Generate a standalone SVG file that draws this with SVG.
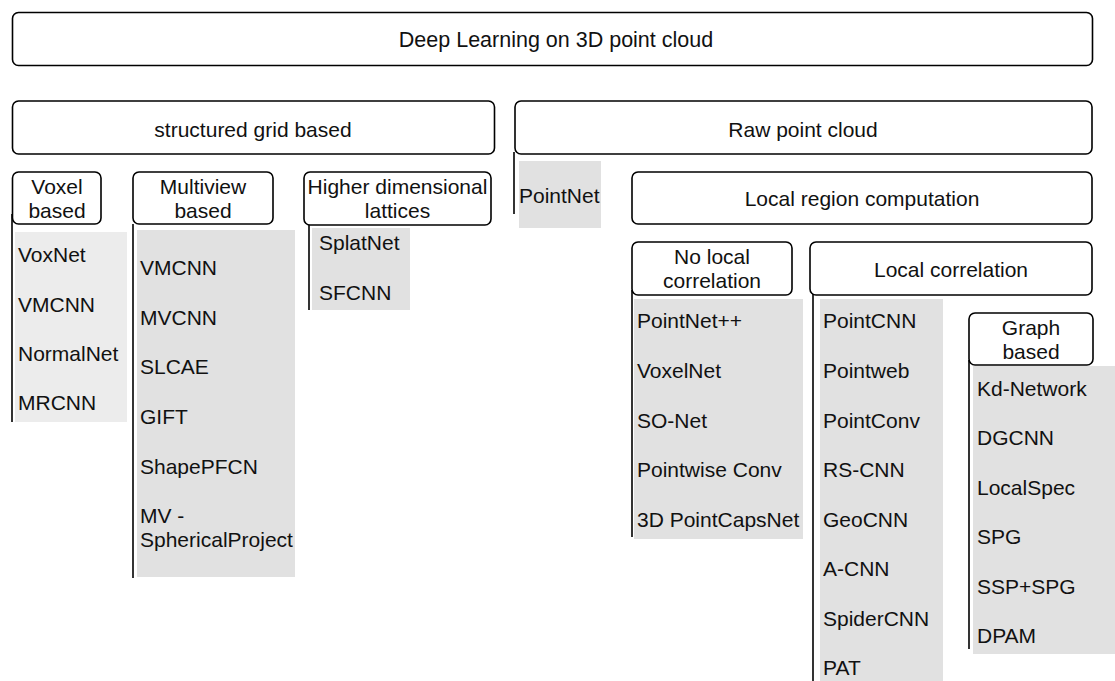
<svg xmlns="http://www.w3.org/2000/svg" width="1115" height="681" viewBox="0 0 1115 681">
<style>
.box{fill:#fff;stroke:#000;stroke-width:1.6}
.t{font-family:"Liberation Sans",Arial,sans-serif;font-size:21px;fill:#111}
.c{text-anchor:middle}
.g{fill:#e1e1e1}
.g2{fill:#ececec}
.ln{stroke:#000;stroke-width:1.6;fill:none}
</style>
<rect width="1115" height="681" fill="#fff"/>
<g id="connectors">
<line class="ln" x1="12" y1="214" x2="12" y2="422"/>
<line class="ln" x1="133" y1="224" x2="133" y2="578"/>
<line class="ln" x1="309" y1="225" x2="309" y2="310"/>
<line class="ln" x1="514" y1="152" x2="514" y2="214"/>
<line class="ln" x1="632" y1="290" x2="632" y2="537"/>
<line class="ln" x1="813" y1="290" x2="813" y2="681"/>
<line class="ln" x1="969" y1="360" x2="969" y2="649"/>
</g>
<g id="root"><rect class="box" x="12.5" y="12.5" width="1080" height="53" rx="6"/><text class="t c" x="556" y="47" style="font-size:21.5px">Deep Learning on 3D point cloud</text></g>
<g id="structured"><rect class="box" x="12.5" y="101" width="482" height="53" rx="6"/><text class="t c" x="253" y="137">structured grid based</text></g>
<g id="raw"><rect class="box" x="515" y="101" width="577" height="53" rx="6"/><text class="t c" x="803" y="137">Raw point cloud</text></g>
<g id="voxel"><rect class="box" x="12.5" y="172" width="88.5" height="52" rx="6"/><text class="t c" x="57" y="194">Voxel</text><text class="t c" x="57" y="218">based</text></g>
<g id="multiview"><rect class="box" x="133" y="172" width="140" height="52" rx="6"/><text class="t c" x="203" y="194">Multiview</text><text class="t c" x="203" y="218">based</text></g>
<g id="higher"><rect class="box" x="304" y="172" width="187" height="53" rx="6"/><text class="t c" x="397.5" y="194">Higher dimensional</text><text class="t c" x="397.5" y="218">lattices</text></g>
<g id="voxel-list"><rect class="g2" x="15" y="232" width="112" height="190"/>
<text class="t" x="18" y="262">VoxNet</text><text class="t" x="18" y="312">VMCNN</text><text class="t" x="18" y="361">NormalNet</text><text class="t" x="18" y="410">MRCNN</text></g>
<g id="multiview-list"><rect class="g" x="137" y="230" width="158" height="347"/>
<text class="t" x="140" y="275">VMCNN</text><text class="t" x="140" y="325">MVCNN</text><text class="t" x="140" y="374">SLCAE</text><text class="t" x="140" y="424">GIFT</text><text class="t" x="140" y="474">ShapePFCN</text><text class="t" x="140" y="523">MV -</text><text class="t" x="140" y="547">SphericalProject</text></g>
<g id="higher-list"><rect class="g" x="312" y="228" width="98" height="82"/>
<text class="t" x="319" y="250">SplatNet</text><text class="t" x="319" y="300">SFCNN</text></g>
<g id="pointnet"><rect class="g" x="519" y="161" width="82" height="67"/><text class="t" x="519" y="203">PointNet</text></g>
<g id="local-region"><rect class="box" x="632" y="172" width="460" height="52" rx="6"/><text class="t c" x="862" y="206">Local region computation</text></g>
<g id="no-local"><rect class="box" x="632" y="242" width="160" height="53" rx="6"/><text class="t c" x="712" y="264">No local</text><text class="t c" x="712" y="288">correlation</text></g>
<g id="local-corr"><rect class="box" x="810" y="242" width="282" height="53" rx="6"/><text class="t c" x="951" y="277">Local correlation</text></g>
<g id="no-local-list"><rect class="g" x="634" y="299" width="169" height="240"/>
<text class="t" x="637" y="328">PointNet++</text><text class="t" x="637" y="378">VoxelNet</text><text class="t" x="637" y="428">SO-Net</text><text class="t" x="637" y="477">Pointwise Conv</text><text class="t" x="637" y="527">3D PointCapsNet</text></g>
<g id="local-corr-list"><rect class="g" x="820" y="299" width="123" height="382"/>
<text class="t" x="823" y="328">PointCNN</text><text class="t" x="823" y="378">Pointweb</text><text class="t" x="823" y="428">PointConv</text><text class="t" x="823" y="477">RS-CNN</text><text class="t" x="823" y="527">GeoCNN</text><text class="t" x="823" y="576">A-CNN</text><text class="t" x="823" y="626">SpiderCNN</text><text class="t" x="823" y="675">PAT</text></g>
<g id="graph"><rect class="box" x="969" y="313" width="124" height="52" rx="6"/><text class="t c" x="1031" y="335">Graph</text><text class="t c" x="1031" y="359">based</text></g>
<g id="graph-list"><rect class="g" x="973" y="366" width="142" height="288"/>
<text class="t" x="977" y="396">Kd-Network</text><text class="t" x="977" y="445">DGCNN</text><text class="t" x="977" y="495">LocalSpec</text><text class="t" x="977" y="544">SPG</text><text class="t" x="977" y="594">SSP+SPG</text><text class="t" x="977" y="643">DPAM</text></g>
</svg>
